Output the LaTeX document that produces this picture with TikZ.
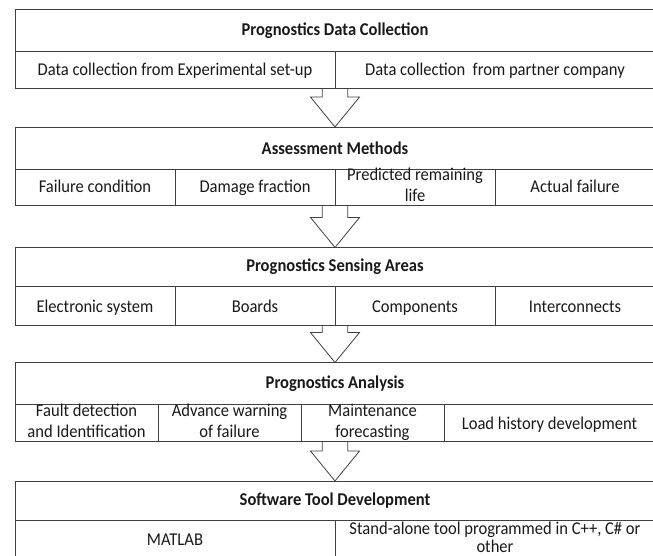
\documentclass[tikz,border=0pt]{standalone}
\usepackage{fontspec}
\setmainfont[FakeStretch=0.92]{Carlito}
\usetikzlibrary{calc}
\newcommand\cellstrut{\rule[-5pt]{0pt}{22pt}}
\begin{document}
\begin{tikzpicture}[x=1pt,y=-1pt,line width=0.8pt,
    every node/.style={inner sep=0pt,outer sep=0pt,text=black!90,font=\fontsize{18}{21}\selectfont},
    every label/.style={align=center,execute at begin node=\cellstrut,execute at end node=\cellstrut},
    head/.style={draw=black!75,anchor=north west,minimum width=640pt,font=\fontsize{18}{21}\selectfont\bfseries},
    cell/.style={draw=black!75,anchor=north west,minimum width=#1},
    flow/.style={draw=black!75,line join=miter}]
\useasboundingbox (0,0) rectangle (653,556);

\node[head,minimum height=42pt] (pdc) at (15,9.5) {Prognostics Data Collection};
\node[cell=320pt,minimum height=37pt,label=center:Data collection from Experimental set-up] (pdc1) at (pdc.south west) {};
\node[cell=320pt,minimum height=37pt,label=center:Data collection~ from partner company] (pdc2) at (pdc1.north east) {};

\node[head,minimum height=42pt] (am) at (15,127) {Assessment Methods};
\node[cell=160pt,minimum height=36pt,label=center:Failure condition] (am1) at (am.south west) {};
\node[cell=160pt,minimum height=36pt,label=center:Damage fraction] (am2) at (am1.north east) {};
\node[cell=160pt,minimum height=36pt,label={center:Predicted remaining\\life}] (am3) at (am2.north east) {};
\node[cell=160pt,minimum height=36pt,label=center:Actual failure] (am4) at (am3.north east) {};

\node[head,minimum height=39pt] (psa) at (15,247.5) {Prognostics Sensing Areas};
\node[cell=160pt,minimum height=39pt,label=center:Electronic system] (psa1) at (psa.south west) {};
\node[cell=160pt,minimum height=39pt,label=center:Boards] (psa2) at (psa1.north east) {};
\node[cell=160pt,minimum height=39pt,label=center:Components] (psa3) at (psa2.north east) {};
\node[cell=160pt,minimum height=39pt,label=center:Interconnects] (psa4) at (psa3.north east) {};

\node[head,minimum height=42pt] (pa) at (15,362.5) {Prognostics Analysis};
\node[cell=143pt,minimum height=37pt,label={center:Fault detection\\and Identification}] (pa1) at (pa.south west) {};
\node[cell=143pt,minimum height=37pt,label={center:Advance warning\\of failure}] (pa2) at (pa1.north east) {};
\node[cell=143pt,minimum height=37pt,label={center:Maintenance\\forecasting}] (pa3) at (pa2.north east) {};
\node[cell=211pt,minimum height=37pt,label=center:Load history development] (pa4) at (pa3.north east) {};

\node[head,minimum height=39.5pt] (std) at (15,481) {Software Tool Development};
\node[cell=320pt,minimum height=38pt,label=center:MATLAB] (std1) at (std.south west) {};
\node[cell=320pt,minimum height=38pt,label={[font=\fontsize{18}{18.5}\selectfont]center:{Stand-alone tool programmed in C++, C\# or\\other}}] (std2) at (std1.north east) {};

\foreach \a/\b in {pdc1/am,am1/psa,psa1/pa,pa1/std}
  \draw[flow] ($(\a.south -| \b.north)+(-12.8,0)$) -- ($(\b.north)+(-12.8,-30)$) -- ($(\b.north)+(-24.5,-30)$) -- (\b.north)
    -- ($(\b.north)+(24.5,-30)$) -- ($(\b.north)+(12.8,-30)$) -- ($(\a.south -| \b.north)+(12.8,0)$);
\end{tikzpicture}
\end{document}
